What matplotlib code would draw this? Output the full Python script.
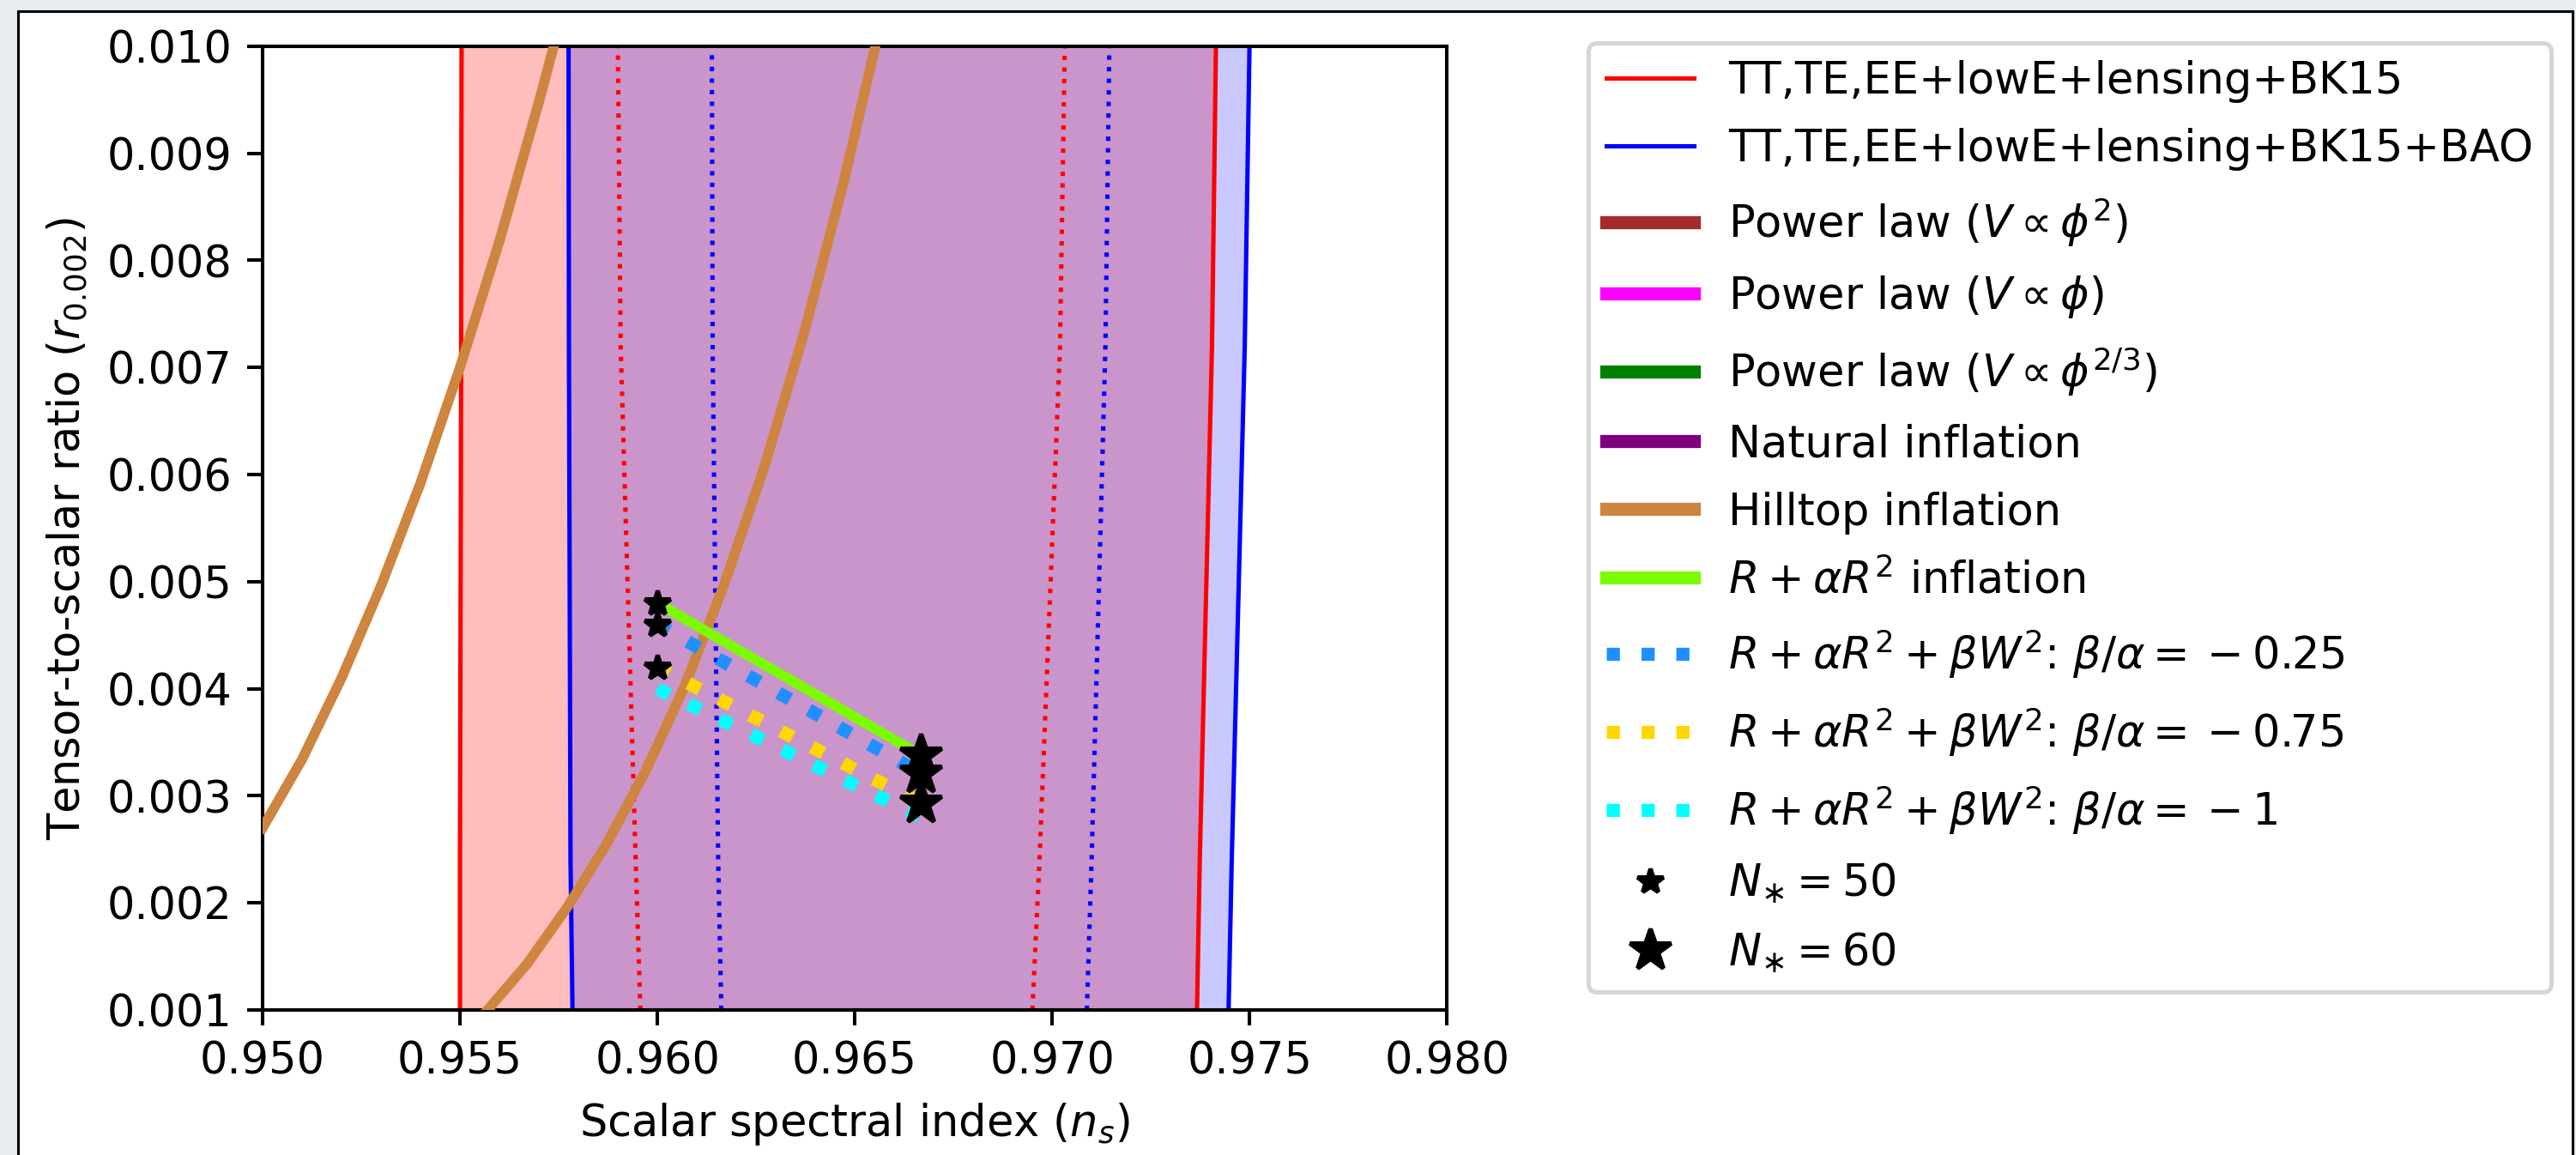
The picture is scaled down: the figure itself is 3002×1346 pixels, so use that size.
import matplotlib
matplotlib.use("Agg")
import matplotlib.pyplot as plt
from matplotlib.patches import Rectangle
import numpy as np

# Planck 2018 contours (TT,TE,EE+lowE+lensing+BK15 [+BAO])
r_grid = [0.001, 0.0024, 0.0072, 0.010]
red95_left = [0.95500, 0.95500, 0.95503, 0.95504]
red95_right = [0.97367, 0.97374, 0.97405, 0.97415]
red68_left = [0.95957, 0.95945, 0.95907, 0.95900]
red68_right = [0.96950, 0.96968, 0.97020, 0.97032]
blue95_left = [0.95785, 0.95780, 0.95776, 0.95775]
blue95_right = [0.97447, 0.97455, 0.97488, 0.97500]
blue68_left = [0.96162, 0.96154, 0.96140, 0.96138]
blue68_right = [0.97088, 0.97100, 0.97135, 0.97145]

# models (power law / natural lie above the plotted range)
pl2_ns = [0.9600, 0.9667]
pl2_r = [0.158, 0.132]
pl1_ns = [0.9703, 0.9752]
pl1_r = [0.079, 0.066]
pl23_ns = [0.9735, 0.9779]
pl23_r = [0.053, 0.044]
nat_ns = [0.9380, 0.9560]
nat_r = [0.012, 0.040]

hill1_ns = [0.9500, 0.9510, 0.9520, 0.9530, 0.9540, 0.9550, 0.9560, 0.9570, 0.9575]
hill1_r = [0.00270, 0.00334, 0.00410, 0.00496, 0.00592, 0.00700, 0.00818, 0.00948, 0.01017]
hill2_ns = [0.9557, 0.9567, 0.9577, 0.9587, 0.9597, 0.9607, 0.9617, 0.9627,
            0.9637, 0.9647, 0.9657]
hill2_r = [0.00100, 0.00143, 0.00195, 0.00254, 0.00323, 0.00403, 0.00498, 0.00606,
           0.00730, 0.00870, 0.01028]

r2_ns = [0.9600, 0.96667]
r2_r = [0.0048, 0.00338]
w025_ns = [0.9600, 0.96667]
w025_r = [0.0046, 0.00321]
w075_ns = [0.9600, 0.96667]
w075_r = [0.0042, 0.00293]
w1_ns = [0.9600, 0.96667]
w1_r = [0.0040, 0.0028]

n50_ns = [0.9600, 0.9600, 0.9600]
n50_r = [0.0048, 0.0046, 0.0042]
n60_ns = [0.96667, 0.96667, 0.96667]
n60_r = [0.00338, 0.00321, 0.00293]

W, H, DPI = 3002, 1346, 367
fig = plt.figure(figsize=((W + 0.3) / DPI, (H + 0.3) / DPI), dpi=DPI)
fig.set_facecolor("#e9edef")
fig.add_artist(Rectangle((21 / W, -0.02), (2998 - 21) / W, 1.02 - 13 / H,
                         transform=fig.transFigure, facecolor="white",
                         edgecolor="black", lw=0.6, zorder=-10))

ax = fig.add_axes([306 / W, 1 - 1177 / H, (1686 - 306) / W, (1177 - 54) / H])

ax.fill_betweenx(r_grid, red95_left, red95_right, color="red", alpha=0.26, lw=0, zorder=1)
ax.fill_betweenx(r_grid, blue95_left, blue95_right, color="blue", alpha=0.21, lw=0, zorder=1)
ax.plot(red95_left, r_grid, color="red", lw=1, zorder=2,
        label="TT,TE,EE+lowE+lensing+BK15")
ax.plot(red95_right, r_grid, color="red", lw=1, zorder=2)
ax.plot(red68_left, r_grid, color="red", lw=1, ls=":", zorder=2)
ax.plot(red68_right, r_grid, color="red", lw=1, ls=":", zorder=2)
ax.plot(blue95_left, r_grid, color="blue", lw=1, zorder=2,
        label="TT,TE,EE+lowE+lensing+BK15+BAO")
ax.plot(blue95_right, r_grid, color="blue", lw=1, zorder=2)
ax.plot(blue68_left, r_grid, color="blue", lw=1, ls=":", zorder=2)
ax.plot(blue68_right, r_grid, color="blue", lw=1, ls=":", zorder=2)

lw_m = 2.3
ax.plot(pl2_ns, pl2_r, color="brown", lw=lw_m, label=r"Power law ($V\propto\phi^2$)")
ax.plot(pl1_ns, pl1_r, color="magenta", lw=lw_m, label=r"Power law ($V\propto\phi$)")
ax.plot(pl23_ns, pl23_r, color="green", lw=lw_m, label=r"Power law ($V\propto\phi^{2/3}$)")
ax.plot(nat_ns, nat_r, color="purple", lw=lw_m, label="Natural inflation")
ax.plot(hill1_ns, hill1_r, color="peru", lw=lw_m, zorder=3, label="Hilltop inflation")
ax.plot(hill2_ns, hill2_r, color="peru", lw=lw_m, zorder=3)
ax.plot(r2_ns, r2_r, color="lawngreen", lw=lw_m, zorder=4, label=r"$R+\alpha R^2$ inflation")
ax.plot(w025_ns, w025_r, color="dodgerblue", lw=3, ls=":", zorder=4,
        label=r"$R+\alpha R^2+\beta W^2$: $\beta/\alpha={}-0.25$")
ax.plot(w075_ns, w075_r, color="gold", lw=3, ls=":", zorder=4,
        label=r"$R+\alpha R^2+\beta W^2$: $\beta/\alpha={}-0.75$")
ax.plot(w1_ns, w1_r, color="cyan", lw=3, ls=":", zorder=4,
        label=r"$R+\alpha R^2+\beta W^2$: $\beta/\alpha={}-1$")
ax.plot(n50_ns, n50_r, ls="none", marker="*", ms=6, color="black", zorder=5,
        label=r"$N_{\ast}=50$")
ax.plot(n60_ns, n60_r, ls="none", marker="*", ms=10, color="black", zorder=5,
        label=r"$N_{\ast}=60$")

ax.set_xlim(0.950, 0.980)
ax.set_ylim(0.001, 0.010)
ax.set_xticks(np.arange(0.950, 0.9801, 0.005))
ax.set_yticks(np.arange(0.001, 0.01001, 0.001))
ax.xaxis.set_major_formatter(plt.FormatStrFormatter("%.3f"))
ax.yaxis.set_major_formatter(plt.FormatStrFormatter("%.3f"))
ax.set_xlabel(r"Scalar spectral index ($n_s$)")
ax.set_ylabel(r"Tensor-to-scalar ratio ($r_{0.002}$)")

leg = ax.legend(loc="upper left", bbox_to_anchor=(1851 / W, 1 - 50 / H),
                bbox_transform=fig.transFigure, borderaxespad=0, labelspacing=0.57)
for line in leg.get_lines()[2:8]:
    line.set_linewidth(3)

fig.savefig("out.png", dpi=DPI, facecolor=fig.get_facecolor())
